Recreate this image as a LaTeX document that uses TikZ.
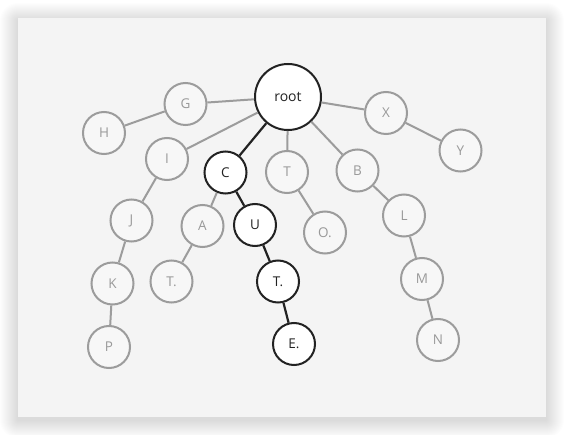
\documentclass[tikz,border=0pt]{standalone}
\usepackage{fontspec}
\setmainfont{Open Sans}
\definecolor{cardbg}{HTML}{F4F4F4}
\definecolor{graystroke}{HTML}{9C9C9C}
\definecolor{graytext}{HTML}{999999}
\definecolor{darkstroke}{HTML}{222222}
\definecolor{nodefill}{HTML}{F7F7F7}
\tikzset{
  lite/.style={circle, draw=graystroke, fill=nodefill, line width=2pt, minimum size=42pt, inner sep=0pt, text=graytext, font=\fontsize{13.5}{14}\selectfont},
  dark/.style={circle, draw=darkstroke, fill=white, line width=2pt, minimum size=42pt, inner sep=0pt, text=darkstroke, font=\fontsize{13.5}{14}\selectfont},
  rootnode/.style={dark, minimum size=66pt, font=\fontsize{14}{15}\selectfont},
  liteedge/.style={draw=graystroke, line width=2pt},
  darkedge/.style={draw=darkstroke, line width=2.2pt},
}
\begin{document}
\begin{tikzpicture}[x=1pt,y=-1pt]
\useasboundingbox (0,0) rectangle (564,435);
\fill[white] (0,0) rectangle (564,435);
% soft shadow
\foreach \i in {1,...,18}{
  \fill[black, opacity=0.009, rounded corners=\i pt] (18-\i,18-\i+3) rectangle (546+\i,417+\i+3);
}
\fill[cardbg] (18,18) rectangle (546,417);

\node[rootnode] (root) at (288,97) {root};
\node[lite] (G) at (185.5,104) {G};
\node[lite] (H) at (104,133) {H};
\node[lite] (I) at (167,159) {I};
\node[lite] (J) at (131.5,220.5) {J};
\node[lite] (K) at (112.5,283.5) {K};
\node[lite] (P) at (109,347) {P};
\node[dark] (C) at (225.5,172.5) {C};
\node[lite] (A) at (202.5,226) {A};
\node[lite] (Tl) at (171.5,281.5) {T.};
\node[dark] (U) at (255,225) {U};
\node[dark] (Td) at (278,281.5) {T.};
\node[dark] (E) at (294,344) {E.};
\node[lite] (T) at (287,172) {T};
\node[lite] (O) at (325,232.5) {O.};
\node[lite] (B) at (357.5,170.5) {B};
\node[lite] (L) at (404,215.5) {L};
\node[lite] (M) at (422,279) {M};
\node[lite] (N) at (438,340) {N};
\node[lite] (X) at (386,113) {X};
\node[lite] (Y) at (460.5,150.5) {Y};

\draw[liteedge] (root) -- (G);
\draw[liteedge] (G) -- (H);
\draw[liteedge] (root) -- (I);
\draw[liteedge] (I) -- (J);
\draw[liteedge] (J) -- (K);
\draw[liteedge] (K) -- (P);
\draw[darkedge] (root) -- (C);
\draw[liteedge] (C) -- (A);
\draw[liteedge] (A) -- (Tl);
\draw[darkedge] (C) -- (U);
\draw[darkedge] (U) -- (Td);
\draw[darkedge] (Td) -- (E);
\draw[liteedge] (root) -- (T);
\draw[liteedge] (T) -- (O);
\draw[liteedge] (root) -- (B);
\draw[liteedge] (B) -- (L);
\draw[liteedge] (L) -- (M);
\draw[liteedge] (M) -- (N);
\draw[liteedge] (root) -- (X);
\draw[liteedge] (X) -- (Y);
\end{tikzpicture}
\end{document}
